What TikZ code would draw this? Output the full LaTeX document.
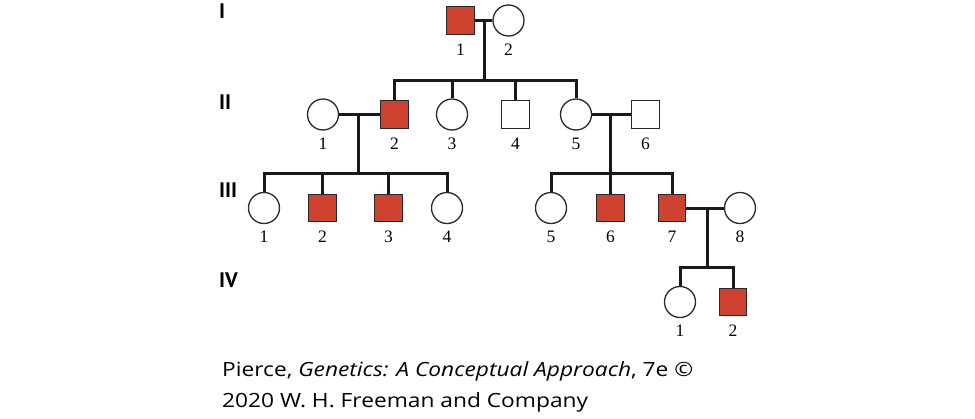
\documentclass[tikz,border=0pt]{standalone}
\usepackage{fontspec}
\setmainfont{Liberation Serif}
\newfontfamily\capfont[FakeStretch=1.16]{Open Sans}
\newfontfamily\genfont{PT Sans}
\definecolor{aff}{RGB}{205,65,46}
\definecolor{outl}{RGB}{40,40,40}
\begin{document}
\begin{tikzpicture}[x=1pt,y=-1pt,
  male/.style={rectangle,draw=outl,line width=1.3pt,minimum size=27.5pt,inner sep=0pt},
  female/.style={circle,draw=outl,line width=1.3pt,minimum size=31pt,inner sep=0pt},
  affected/.style={fill=aff},
  conn/.style={line width=3pt,draw=black!90},
  num/.style={font=\fontsize{17.5}{17.5}\selectfont,inner sep=0pt},
  gen/.style={font=\genfont\bfseries\fontsize{21}{21}\selectfont,anchor=west,inner sep=0pt},
  captext/.style={font=\capfont\fontsize{19.6}{24}\selectfont,anchor=base west,inner sep=0pt}]
\useasboundingbox (0,0) rectangle (975,418);
% generation labels
\node[gen] (gI) at (219,11) {I};
\node[gen] (gII) at (219,102) {II};
\node[gen] (gIII) at (219,190) {III};
\node[gen] (gIV) at (219,280) {IV};
% generation I
\node[male,affected] (I1) at (460.5,20.5) {};
\node[female] (I2) at (508.5,20.5) {};
% generation II
\node[female] (II1) at (323,114.5) {};
\node[male,affected] (II2) at (394.5,114.5) {};
\node[female] (II3) at (452,114.5) {};
\node[male] (II4) at (515.5,114.5) {};
\node[female] (II5) at (576,114.5) {};
\node[male] (II6) at (645.5,114.5) {};
% generation III
\node[female] (III1) at (264,208) {};
\node[male,affected] (III2) at (322.5,208) {};
\node[male,affected] (III3) at (388.5,208) {};
\node[female] (III4) at (447,208) {};
\node[female] (III5) at (551,208) {};
\node[male,affected] (III6) at (610.5,208) {};
\node[male,affected] (III7) at (672,208) {};
\node[female] (III8) at (740,208) {};
% generation IV
\node[female] (IV1) at (680,302) {};
\node[male,affected] (IV2) at (733,302) {};
% numbers
\foreach \n/\t in {I1/1,I2/2,II1/1,II2/2,II3/3,II4/4,II5/5,II6/6,III1/1,III2/2,III3/3,III4/4,III5/5,III6/6,III7/7,III8/8,IV1/1,IV2/2}
  \node[num] (\n n) at ([yshift=-29pt]\n.center) {\t};
% coordinates
\coordinate (m1) at (484,20.5);
\coordinate (s1) at (484,80);
\coordinate (m2) at (358,114.5);
\coordinate (s2) at (358,173);
\coordinate (m3) at (610.5,114.5);
\coordinate (s3) at (610.5,173);
\coordinate (m4) at (707,208);
\coordinate (s4) at (707,267);
% connectors
\draw[conn] (I1.east) -- (I2.west);
\draw[conn] (m1) -- (s1);
\draw[conn] (II2.north) |- (s1) -| (II5.north);
\draw[conn] (II3.north) -- (II3.north |- s1);
\draw[conn] (II4.north) -- (II4.north |- s1);
\draw[conn] (II1.east) -- (II2.west);
\draw[conn] (m2) -- (s2);
\draw[conn] (III1.north) |- (s2) -| (III4.north);
\draw[conn] (III2.north) -- (III2.north |- s2);
\draw[conn] (III3.north) -- (III3.north |- s2);
\draw[conn] (II5.east) -- (II6.west);
\draw[conn] (m3) -- (s3);
\draw[conn] (III5.north) |- (s3) -| (III7.north);
\draw[conn] (III6.north) -- (s3);
\draw[conn] (III7.east) -- (III8.west);
\draw[conn] (m4) -- (s4);
\draw[conn] (IV1.north) |- (s4) -| (IV2.north);
% caption
\node[captext] (c1) at (222,376) {Pierce, \textit{Genetics: A Conceptual Approach}, 7e ©};
\node[captext] (c2) at (222,407) {2020 W. H. Freeman and Company};
\end{tikzpicture}
\end{document}
